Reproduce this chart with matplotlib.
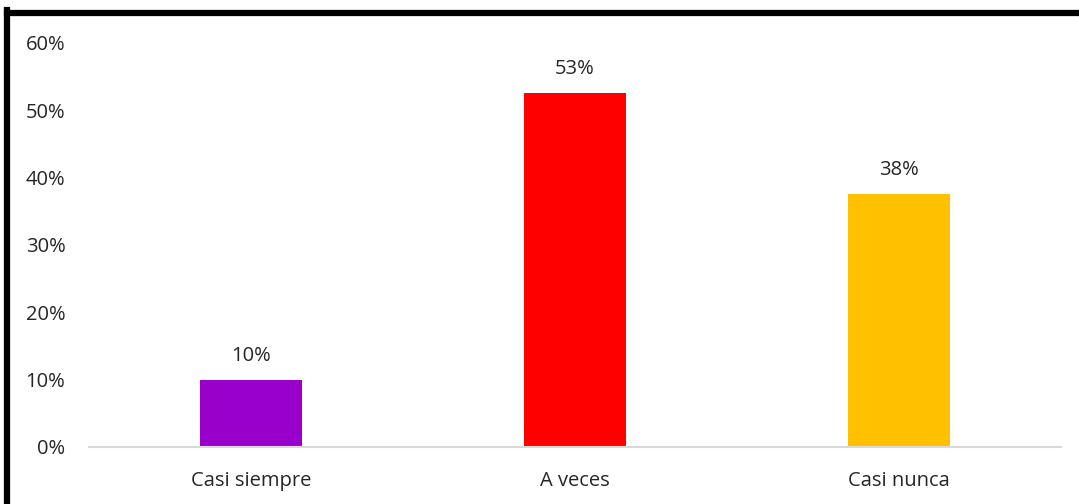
import matplotlib.pyplot as plt
from matplotlib.lines import Line2D
from matplotlib.ticker import PercentFormatter

categories = ["Casi siempre", "A veces", "Casi nunca"]
values = [0.10, 0.526, 0.376]
colors = ["#9900CC", "#FF0000", "#FFC000"]
yticks = [0, 0.1, 0.2, 0.3, 0.4, 0.5, 0.6]

plt.rcParams['font.family'] = ['Open Sans', 'DejaVu Sans']

W, H = 1079, 504
fig = plt.figure(figsize=(W / 100, H / 100), dpi=100)
ax = fig.add_axes([89 / W, 1 - 447 / H, (1061 - 89) / W, (447 - 43) / H])

x = range(len(categories))
bars = ax.bar(x, values, width=0.315, color=colors)
for b, v in zip(bars, values):
    ax.annotate(f"{v:.0%}", (b.get_x() + b.get_width() / 2, v),
                xytext=(0, 10), textcoords="offset points",
                ha="center", va="bottom", fontsize=14.5, color="#262626")

ax.set_xlim(-0.5, 2.5)
ax.set_ylim(0, 0.6)
ax.set_yticks(yticks)
ax.yaxis.set_major_formatter(PercentFormatter(1.0, decimals=0))
ax.set_xticks(list(x))
ax.set_xticklabels(categories)
ax.tick_params(axis="both", length=0, labelsize=14.5, colors="#262626")
ax.tick_params(axis="y", pad=17)
ax.tick_params(axis="x", pad=17)

for s in ["top", "right", "left"]:
    ax.spines[s].set_visible(False)
ax.spines["bottom"].set_color("#D9D9D9")
ax.spines["bottom"].set_linewidth(1.5)

# thick frame on the left and top edges
fig.add_artist(Line2D([7 / W, 7 / W], [0, 1 - 10 / H], color="black", lw=4.5,
                      transform=fig.transFigure, solid_capstyle="projecting"))
fig.add_artist(Line2D([7 / W, 1], [1 - 13 / H, 1 - 13 / H], color="black", lw=4.5,
                      transform=fig.transFigure, solid_capstyle="projecting"))

fig.savefig("out.png", dpi=100)
